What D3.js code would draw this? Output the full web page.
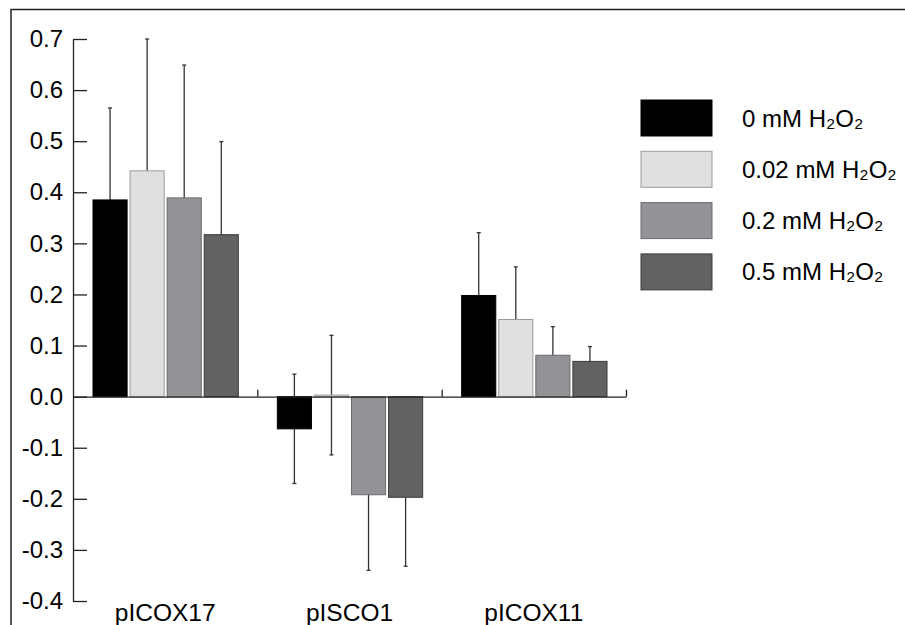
<!DOCTYPE html>
<head>
  <meta charset="utf-8">
  <title>Relative expression under H2O2</title>
  <style>
    body { margin: 0; background: #fff; }
    text { font-family: "Liberation Sans", Arial, "DejaVu Sans", sans-serif; fill: #000; }
  </style>
  <script src="https://cdn.jsdelivr.net/npm/d3@7"></script>
</head>

<body>
  <script>
    // data
    var categories = ["pICOX17", "pISCO1", "pICOX11"];
    var seriesNames = ["0 mM H₂O₂", "0.02 mM H₂O₂", "0.2 mM H₂O₂", "0.5 mM H₂O₂"];
    var seriesColors = ["#000000", "#dfe0e2", "#929396", "#616264"];
    var seriesStrokes = ["#000000", "#9a9b9d", "#6a6b6d", "#3a3b3c"];
    var values0 = [0.385, -0.063, 0.198];
    var values1 = [0.442, 0.003, 0.151];
    var values2 = [0.389, -0.192, 0.081];
    var values3 = [0.317, -0.197, 0.069];
    var errors0 = [0.180, 0.107, 0.123];
    var errors1 = [0.258, 0.117, 0.103];
    var errors2 = [0.260, 0.148, 0.056];
    var errors3 = [0.182, 0.135, 0.029];
    var yTicks = [-0.4, -0.3, -0.2, -0.1, 0.0, 0.1, 0.2, 0.3, 0.4, 0.5, 0.6, 0.7];

    var allValues = [values0, values1, values2, values3];
    var allErrors = [errors0, errors1, errors2, errors3];

    var width = 905, height = 625;

    var svg = d3.select("body").append("svg")
      .attr("width", width)
      .attr("height", height);

    // frame (only left and top show)
    svg.append("path")
      .attr("d", "M11," + height + "V9.5H" + width)
      .attr("fill", "none")
      .attr("stroke", "#222")
      .attr("stroke-width", 1.5);

    var yScale = d3.scaleLinear().domain([-0.4, 0.7]).range([601, 39]);
    var xScale = d3.scaleBand().domain(categories).range([73, 626]);
    var inner = d3.scaleBand().domain(d3.range(seriesNames.length))
      .range([20, xScale.bandwidth() - 19])
      .paddingInner(0.08);

    var rows = [];
    categories.forEach(function (c, ci) {
      allValues.forEach(function (vals, si) {
        rows.push({cat: c, s: si, v: vals[ci], e: allErrors[si][ci]});
      });
    });
    var barX = d => xScale(d.cat) + inner(d.s);
    var midX = d => barX(d) + inner.bandwidth() / 2;

    // error bars go behind the bars
    var err = svg.append("g")
      .attr("stroke", "#333")
      .attr("stroke-width", 1.3);
    err.selectAll("line.stem")
      .data(rows).enter().append("line")
        .attr("class", "stem")
        .attr("x1", midX).attr("x2", midX)
        .attr("y1", d => yScale(d.v + d.e))
        .attr("y2", d => yScale(d.v - d.e));
    err.selectAll("line.capHi")
      .data(rows).enter().append("line")
        .attr("class", "capHi")
        .attr("x1", d => midX(d) - 2).attr("x2", d => midX(d) + 2)
        .attr("y1", d => yScale(d.v + d.e)).attr("y2", d => yScale(d.v + d.e));
    err.selectAll("line.capLo")
      .data(rows).enter().append("line")
        .attr("class", "capLo")
        .attr("x1", d => midX(d) - 2).attr("x2", d => midX(d) + 2)
        .attr("y1", d => yScale(d.v - d.e)).attr("y2", d => yScale(d.v - d.e));

    svg.append("g").selectAll("rect")
      .data(rows).enter().append("rect")
        .attr("x", barX)
        .attr("width", inner.bandwidth())
        .attr("y", d => yScale(Math.max(0, d.v)))
        .attr("height", d => Math.abs(yScale(d.v) - yScale(0)))
        .attr("fill", d => seriesColors[d.s])
        .attr("stroke", d => seriesStrokes[d.s])
        .attr("stroke-width", 1);

    // y axis, ticks pointing into the plot
    var yAxis = svg.append("g")
      .attr("transform", "translate(73,0)")
      .call(d3.axisLeft(yScale).tickValues(yTicks).tickSize(-14).tickSizeOuter(0)
        .tickPadding(10).tickFormat(d => d.toFixed(1)));
    yAxis.select(".domain").attr("stroke", "#222").attr("stroke-width", 1.3);
    yAxis.selectAll(".tick line").attr("stroke", "#222").attr("stroke-width", 1.3);
    yAxis.selectAll(".tick text")
      .attr("font-size", 24)
      .attr("font-family", null)
      .attr("fill", "#000");

    // x axis line at zero with small upward ticks at the group edges
    var edges = d3.scaleLinear().domain([0, categories.length]).range([73, 626]);
    var xAxis = svg.append("g")
      .attr("transform", "translate(0," + yScale(0) + ")")
      .call(d3.axisTop(edges).tickValues([1, 2, 3]).tickSize(7).tickSizeOuter(0).tickFormat(""));
    xAxis.select(".domain").attr("stroke", "#222").attr("stroke-width", 1.3);
    xAxis.selectAll(".tick line").attr("stroke", "#222").attr("stroke-width", 1.3);

    // category labels along the bottom
    var catAxis = svg.append("g")
      .attr("transform", "translate(0,601)")
      .call(d3.axisBottom(xScale).tickSize(0).tickPadding(0));
    catAxis.select(".domain").remove();
    catAxis.selectAll(".tick text")
      .attr("font-size", 24.5)
      .attr("font-family", null)
      .attr("fill", "#000")
      .attr("dy", 19.5);

    // legend
    var legend = svg.append("g")
      .selectAll("g")
      .data(seriesNames).enter().append("g")
        .attr("transform", (d, i) => "translate(641," + (100 + i * 51.3) + ")");
    legend.append("rect")
      .attr("width", 71)
      .attr("height", 36)
      .attr("fill", (d, i) => seriesColors[i])
      .attr("stroke", (d, i) => seriesStrokes[i])
      .attr("stroke-width", 1);
    legend.append("text")
      .attr("x", 101)
      .attr("y", 26.5)
      .attr("font-size", 24)
      .text(d => d);
  </script>
</body>
